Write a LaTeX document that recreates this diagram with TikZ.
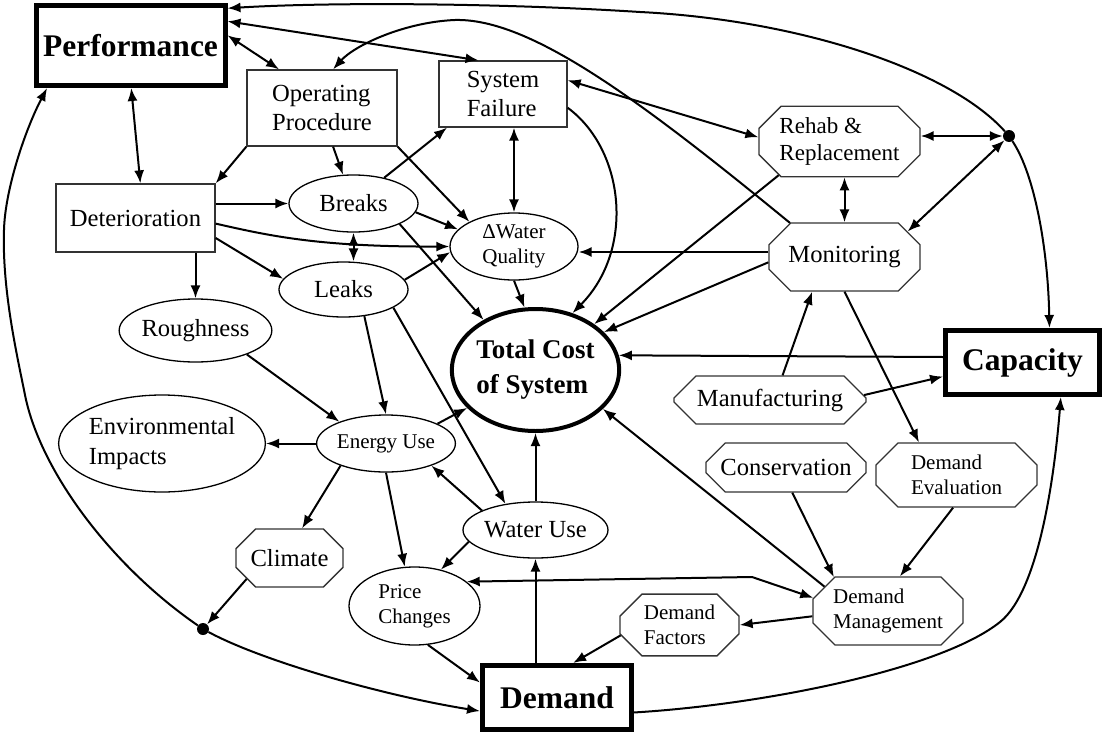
\documentclass[tikz,border=0pt]{standalone}
\usepackage{fontspec}
\setmainfont{Liberation Serif}
\usepackage{tikz}
\usetikzlibrary{arrows.meta,shapes.geometric,shapes.misc}
\newcommand\lbltext{\fontsize{24.6}{29.5}\selectfont}
\newcommand\lblsmall{\fontsize{21}{25}\selectfont}
\newcommand\lblbig{\fontsize{31.5}{36}\selectfont\bfseries}
\newcommand\lblcost{\fontsize{27}{35}\selectfont\bfseries}
\tikzset{
	major/.style={rectangle, draw, line width=5pt, inner sep=0pt, font=\lblbig},
	box/.style={rectangle, draw=black!80, line width=1.3pt, inner sep=0pt, align=left, font=\lbltext},
	oval/.style={ellipse, draw, line width=1.3pt, inner sep=0pt, align=left, font=\lbltext},
	octa/.style={chamfered rectangle, chamfered rectangle xsep=11pt, chamfered rectangle ysep=11pt,
		draw=black!80, line width=1.3pt, inner sep=0pt, align=left, font=\lbltext},
	junction/.style={circle, fill, inner sep=0pt, minimum size=12pt},
	link/.style={line width=2pt, -{Latex[length=13pt,width=10pt]}},
	twoway/.style={line width=2pt, {Latex[length=13pt,width=10pt]}-{Latex[length=13pt,width=10pt]}}
}

\begin{document}
\begin{tikzpicture}[x=1pt, y=-1pt]
			%%%%% START %%%%%
			\useasboundingbox (0,0) rectangle (1102,736);
			
			% main blocks
			\node[major, minimum width=189pt, minimum height=80pt] (perf) at (130.5,45.5) {Performance};
			\node[major, minimum width=154pt, minimum height=64pt] (cap) at (1022.5,362.5) {Capacity};
			\node[major, minimum width=149pt, minimum height=64pt] (dem) at (557,697.5) {Demand};
			\node[ellipse, draw, line width=4pt, inner sep=0pt, align=left, font=\lblcost,
				minimum width=149pt, minimum height=122pt] (cost) at (535.5,370) {Total Cost\\of System};
			
			% boxes
			\node[box, minimum width=150pt, minimum height=76pt] (oper) at (322,108) {Operating\\Procedure};
			\node[box, minimum width=128pt, minimum height=66pt] (fail) at (503,94) {System\\Failure};
			\node[box, minimum width=159pt, minimum height=68pt] (det) at (135.5,218) {Deterioration};
			
			% ovals
			\node[oval, minimum width=129pt, minimum height=57pt] (brk) at (353.5,203.5) {Breaks};
			\node[oval, minimum width=129pt, minimum height=55pt] (leak) at (343.5,289.5) {Leaks};
			\node[oval, font=\lblsmall, minimum width=128pt, minimum height=67pt] (wq) at (514,246.5) {ΔWater\\Quality};
			\node[oval, minimum width=151pt, minimum height=63pt] (rough) at (195.5,330.5) {Roughness};
			\node[oval, minimum width=194pt, minimum height=97pt] (env) at (162,443.5) {Environmental\\Impacts};
			\node[oval, font=\lblsmall, minimum width=128pt, minimum height=57pt] (energy) at (386,443.5) {Energy Use};
			\node[oval, minimum width=129pt, minimum height=56pt] (wuse) at (535.5,530) {Water Use};
			\node[oval, font=\lblsmall, minimum width=131pt, minimum height=78pt] (price) at (414.5,606) {Price\\Changes};
			
			% octagons
			\node[octa, minimum width=107pt, minimum height=58pt] (clim) at (289.5,558) {Climate};
			\node[octa, font=\lblsmall, minimum width=119pt, minimum height=58pt] (dfac) at (679.5,625) {Demand\\Factors};
			\node[octa, font=\lblsmall, minimum width=150pt, minimum height=68pt] (dman) at (888,611) {Demand\\Management};
			\node[octa, minimum width=160pt, minimum height=49pt] (cons) at (786,467.5) {Conservation};
			\node[octa, font=\lblsmall, minimum width=161pt, minimum height=64pt] (deval) at (956.5,475) {Demand\\Evaluation};
			\node[octa, minimum width=192pt, minimum height=48pt] (manu) at (770,400) {Manufacturing};
			\node[octa, minimum width=151pt, minimum height=68pt] (mon) at (844.5,257) {Monitoring};
			\node[octa, font=\fontsize{23}{27.5}\selectfont, minimum width=161pt, minimum height=67pt] (rehab) at (839.5,141.5) {Rehab \&\\Replacement};
			
			% junction dots
			\node[junction] (dotTR) at (1009,136) {};
			\node[junction] (dotBL) at (203,629) {};
			
			% performance links
			\draw[twoway] (perf.6) -- (oper.138);
			\draw[twoway] (perf.14.5) -- (fail.126);
			\draw[twoway] (perf.-89) -- (det.82);
			\draw[link] (dotTR) .. controls (950,70) and (800,20) .. (640,12) .. controls (500,3) and (330,2) .. (perf.21.5);
			\draw[link] (dotTR) .. controls (1035,175) and (1048,250) .. (cap.52.6);
			\draw[link] (dotBL) .. controls (110,565) and (40,470) .. (25,395) .. controls (17,355) and (2,290) .. (4,230) .. controls (5,190) and (25,130) .. (perf.-153);
			\draw[link] (dotBL) .. controls (260,660) and (380,695) .. (dem.190);
			
			% upper left
			\draw[link] (oper.south west) -- (det.north east);
			\draw[link] (oper.-74) -- (brk.110);
			\draw[link] (oper.south east) -- (wq.151);
			\draw[link] (det.east |- brk.west) -- (brk.west);
			\draw[link] (det.-4) .. controls (270,236) and (320,247) .. (wq.west);
			\draw[link] (det.-14) -- (leak.170);
			\draw[link] (rough.north |- det.south) -- (rough.north);
			\draw[link] (brk.40) -- (fail.-149);
			\draw[twoway] (brk.south) -- (brk.south |- leak.north);
			\draw[link] (brk.-8) -- (wq.163);
			\draw[link] (brk.-24) -- (cost.136);
			\draw[link] (leak.9) -- (wq.-175);
			\draw[link] (leak.-52) -- (energy.north);
			\draw[link] (leak.-20) -- (wuse.139);
			\draw[twoway] (wq.north |- fail.south) -- (wq.north);
			\draw[link] (wq.south) -- (cost.100);
			\draw[link] (fail.-12) .. controls (625,150) and (635,250) .. (cost.57);
			\draw[twoway] (fail.12) -- (rehab.177);
			
			% right side
			\draw[twoway] (rehab.east |- dotTR) -- (dotTR);
			\draw[twoway] (mon.north) -- (mon.north |- rehab.south);
			\draw[twoway] (mon.22) -- (dotTR);
			\draw[link] (rehab.-151) -- (cost.38);
			\draw[link] (mon.-176) -- (cost.29);
			\draw[link] ([yshift=5pt]mon.west) -- ([yshift=-5.5pt]wq.east);
			\draw[link] (mon.148) .. controls (640,100) and (530,18) .. (455,20) .. controls (405,22) and (355,45) .. (oper.74);
			\draw[link] (mon.south) -- (deval.139.5);
			\draw[link] (manu.63) -- (mon.-133);
			\draw[link] (manu.3) -- (cap.190);
			\draw[link] ([yshift=5.5pt]cap.west) -- (cost.10);
			\draw[link] (dem.-11) .. controls (760,705) and (940,670) .. (1000,622) .. controls (1040,590) and (1055,470) .. (cap.-42);
			
			% lower part
			\draw[link] (cons.-76) -- (dman.148);
			\draw[link] (deval.-96) -- (dman.71);
			\draw[link] (dman.159) -- (cost.-30);
			\draw[twoway] (price.25) -- (752,577) -- (dman.170);
			\draw[link] (dman.184) -- (dfac.east);
			\draw[link] (dfac.190) -- (dem.65);
			\draw[link] (wuse.south |- dem.north) -- (wuse.south);
			\draw[link] (wuse.north) -- (cost.south);
			\draw[link] (wuse.190) -- (price.54);
			\draw[link] (wuse.160) -- (energy.-26);
			\draw[link] (price.-71) -- (dem.169);
			\draw[link] (energy.south) -- (price.104);
			\draw[link] (energy.-154) -- (clim.67);
			\draw[link] (energy.west) -- (env.east);
			\draw[link] (energy.21) -- (cost.-151);
			\draw[link] (rough.-25) -- (energy.155);
			\draw[link] (clim.-154) -- (dotBL);
			
			%%%%% END %%%%%
\end{tikzpicture}
\end{document}
